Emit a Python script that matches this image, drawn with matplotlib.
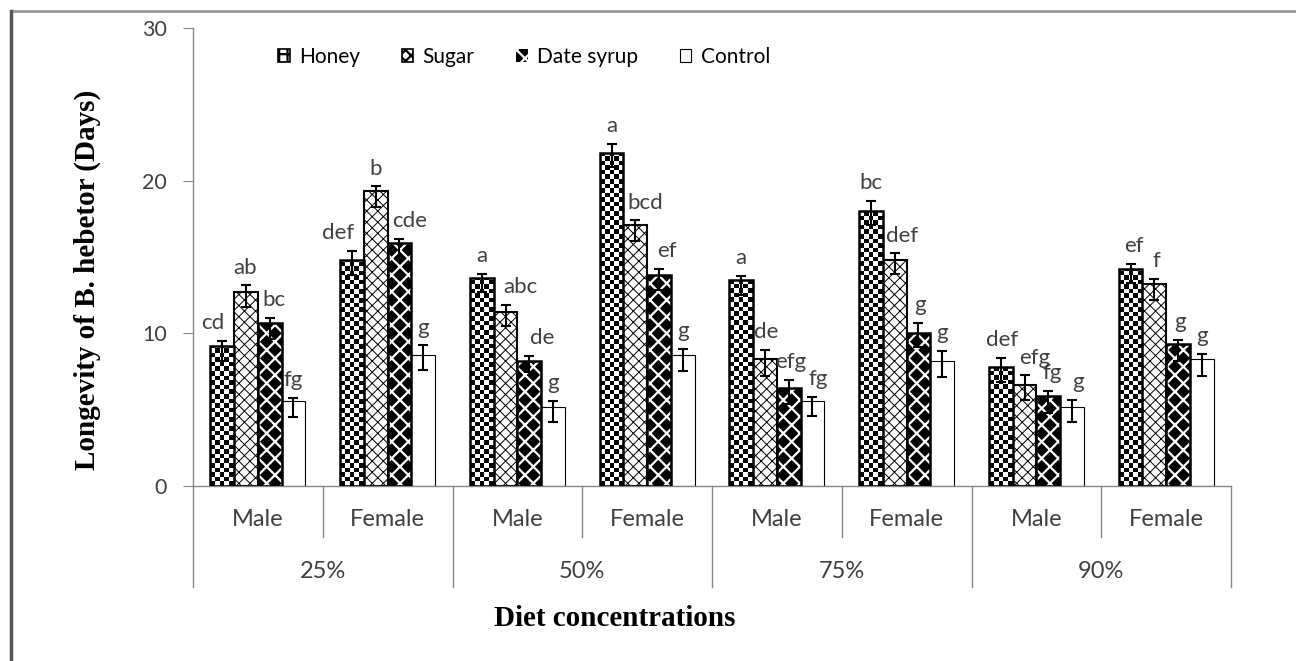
import matplotlib
matplotlib.use("Agg")
import matplotlib.pyplot as plt
import numpy as np
from matplotlib.patches import Patch
from matplotlib.lines import Line2D

# Longevity of B. hebetor by diet and concentration

groups = ["25%", "50%", "75%", "90%"]
sexes = ["Male", "Female"]
series = ["Honey", "Sugar", "Date syrup", "Control"]

honey = [9.2, 14.8, 13.6, 21.8, 13.5, 18.0, 7.8, 14.2]
sugar = [12.7, 19.3, 11.4, 17.1, 8.3, 14.8, 6.6, 13.2]
date_syrup = [10.7, 15.9, 8.2, 13.8, 6.4, 10.0, 5.9, 9.3]
control = [5.6, 8.6, 5.2, 8.6, 5.6, 8.2, 5.2, 8.3]

# error bars (upper / lower arms)
honey_up = [0.33, 0.59, 0.28, 0.61, 0.28, 0.67, 0.59, 0.33]
honey_dn = [0.98, 0.98, 0.87, 0.92, 0.98, 0.92, 1.02, 0.90]
sugar_up = [0.44, 0.33, 0.48, 0.30, 0.59, 0.44, 0.65, 0.35]
sugar_dn = [0.96, 1.02, 0.94, 1.05, 1.09, 0.93, 0.94, 1.03]
date_up = [0.33, 0.31, 0.32, 0.42, 0.55, 0.69, 0.33, 0.28]
date_dn = [1.05, 1.05, 0.72, 0.93, 1.02, 0.88, 1.09, 1.14]
control_up = [0.18, 0.61, 0.40, 0.37, 0.26, 0.63, 0.44, 0.37]
control_dn = [1.05, 1.02, 1.04, 1.07, 1.01, 1.05, 1.02, 1.09]

# significance letters
honey_lab = ["cd", "def", "a", "a", "a", "bc", "def", "ef"]
sugar_lab = ["ab", "b", "abc", "bcd", "de", "def", "efg", "f"]
date_lab = ["bc", "cde", "de", "ef", "efg", "g", "fg", "g"]
control_lab = ["fg", "g", "g", "g", "fg", "g", "g", "g"]

# small sideways nudges of the letters (pixels)
honey_dx = [-10, -14, 0, 0, 0, 0, 1, 3]
sugar_dx = [-1, 0, 15, 10, 1, 7, 10, 2]
date_dx = [4, 10, 13, 8, 2, 2, 4, 2]
control_dx = [0, 0, 0, 0, 6, 0, 6, 0]

plt.rcParams["font.family"] = ["Lato", "DejaVu Sans"]
txt_col = "#404040"
ax_col = "#868686"

fig = plt.figure(figsize=(12.96, 6.61), dpi=100)
W, H = 1296, 661
ax = fig.add_axes([193 / W, 1 - 486 / H, (1231 - 193) / W, (486 - 28) / H])

n = len(honey)
x = np.arange(n)
w = 0.183
offs = (np.arange(4) - 1.5) * w
ymax = 30


def set_hlw(bars, lw):
    for b in bars:
        if hasattr(b, "set_hatch_linewidth"):
            b.set_hatch_linewidth(lw)


# honey: black/white checkerboard texture clipped to each bar
b1 = ax.bar(x + offs[0], honey, w, color="white", edgecolor="none", zorder=2)
rows, cols = 100, 5
checker = (np.add.outer(np.arange(rows), np.arange(cols)) % 2).astype(float)
for bar in b1:
    x0 = bar.get_x()
    im = ax.imshow(checker, extent=[x0, x0 + bar.get_width(), 0, ymax], origin="lower",
                   cmap="gray", vmin=0, vmax=1, interpolation="nearest", aspect="auto", zorder=2.1)
    im.set_clip_path(bar)
ax.bar(x + offs[0], honey, w, fill=False, edgecolor="black", linewidth=1.8, zorder=3)

# sugar: thin crosshatch
plt.rcParams["hatch.linewidth"] = 0.7
b2 = ax.bar(x + offs[1], sugar, w, color="white", edgecolor="black", hatch="xxx", linewidth=1.5, zorder=2)
set_hlw(b2, 0.7)
# date syrup: black diamonds on white
plt.rcParams["hatch.linewidth"] = 1.6
b3 = ax.bar(x + offs[2], date_syrup, w, color="black", edgecolor="white", hatch="xx", linewidth=0, zorder=2)
set_hlw(b3, 1.6)
ax.bar(x + offs[2], date_syrup, w, fill=False, edgecolor="black", linewidth=1.8, zorder=3)
b4 = ax.bar(x + offs[3], control, w, color="white", edgecolor="black", linewidth=0.8, zorder=2)

allvals = [honey, sugar, date_syrup, control]
ups = [honey_up, sugar_up, date_up, control_up]
dns = [honey_dn, sugar_dn, date_dn, control_dn]
labs = [honey_lab, sugar_lab, date_lab, control_lab]
dxs = [honey_dx, sugar_dx, date_dx, control_dx]

for k in range(4):
    ax.errorbar(x + offs[k], allvals[k], yerr=[dns[k], ups[k]], fmt="none",
                ecolor="black", elinewidth=1.5, capsize=3.6, capthick=1.5, zorder=4)
    for i in range(n):
        ax.annotate(labs[k][i], (x[i] + offs[k], allvals[k][i] + ups[k][i]),
                    xytext=(dxs[k][i] * 0.72, 8.5), textcoords="offset points",
                    ha="center", va="baseline", fontsize=16, color=txt_col, zorder=5)

ax.set_xlim(-0.5, n - 0.5)
ax.set_ylim(0, ymax)
ax.set_yticks([0, 10, 20, 30])
ax.set_xticks([])
for s in ["top", "right"]:
    ax.spines[s].set_visible(False)
for s in ["left", "bottom"]:
    ax.spines[s].set_color(ax_col)
    ax.spines[s].set_linewidth(1)
ax.tick_params(axis="y", length=7, color=ax_col, labelsize=15.5, labelcolor=txt_col, pad=12)

# two-level category axis
tr = ax.get_xaxis_transform()
sub_y = -(537 - 486) / 458
grp_y = -(587 - 486) / 458
for i in range(n):
    ax.text(x[i], -(520 - 486) / 458, sexes[i % 2], transform=tr, ha="center", va="center",
            fontsize=17, color=txt_col)
for g in range(len(groups)):
    ax.text(2 * g + 0.5, -(572 - 486) / 458, groups[g], transform=tr, ha="center", va="center",
            fontsize=17, color=txt_col)
for g in range(len(groups)):
    ax.add_line(Line2D([2 * g + 0.5] * 2, [0, sub_y], transform=tr, color=ax_col, lw=1, clip_on=False))
for g in range(len(groups) + 1):
    ax.add_line(Line2D([2 * g - 0.5] * 2, [0, grp_y], transform=tr, color=ax_col, lw=1, clip_on=False))

# axis titles
fig.text(615 / W, 1 - 618 / H, "Diet concentrations", ha="center", va="center",
         family="Liberation Serif", weight="bold", fontsize=21)
fig.text(87 / W, 1 - 280 / H, "Longevity of B. hebetor (Days)", ha="center", va="center",
         rotation=90, family="Liberation Serif", weight="bold", fontsize=21)

# legend
handles = [
    Patch(facecolor="white", edgecolor="black", hatch="++", linewidth=1.2),
    Patch(facecolor="white", edgecolor="black", hatch="xxx", linewidth=1.2),
    Patch(facecolor="black", edgecolor="white", hatch="xx", linewidth=0),
    Patch(facecolor="white", edgecolor="black", linewidth=0.8),
]
fig.legend(handles, series, loc="center left", bbox_to_anchor=(268 / W, 1 - 57 / H),
           ncol=4, frameon=False, fontsize=15, handlelength=0.55, handleheight=0.55,
           handletextpad=0.45, columnspacing=2.0, borderpad=0, labelcolor="black")

# outer frame (top and left edges)
fig.add_artist(Line2D([11 / W, 1], [1 - 11 / H] * 2, transform=fig.transFigure, color="#9a9a9a", lw=2))
fig.add_artist(Line2D([11 / W] * 2, [0, 1 - 11 / H], transform=fig.transFigure, color="#555555", lw=2.5))

fig.savefig("out.png", dpi=100)
